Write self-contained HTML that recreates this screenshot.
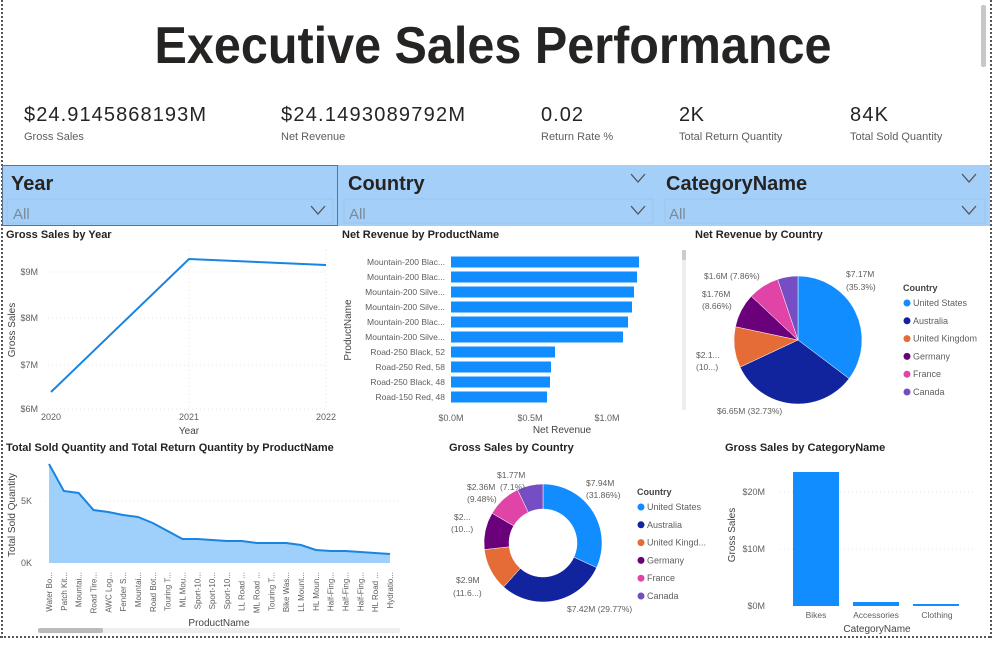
<!DOCTYPE html>
<html><head><meta charset="utf-8"><style>
html,body{margin:0;padding:0;background:#fff;}
svg{display:block;font-family:"Liberation Sans",sans-serif;}
</style></head><body>
<svg id="s" width="1000" height="646" viewBox="0 0 1000 646" xmlns="http://www.w3.org/2000/svg">
<rect width="1000" height="646" fill="#fff"/>
<line x1="2" y1="0" x2="2" y2="638" stroke="#555" stroke-width="2" stroke-dasharray="2,2"/>
<line x1="0" y1="637" x2="992" y2="637" stroke="#555" stroke-width="2" stroke-dasharray="2,2"/>
<line x1="991" y1="0" x2="991" y2="638" stroke="#555" stroke-width="2" stroke-dasharray="2,2"/>
<rect x="981" y="5" width="5" height="62" rx="2" fill="#c8c8c8"/>
<text x="493" y="63" text-anchor="middle" font-size="52" font-weight="bold" fill="#252423" textLength="677" lengthAdjust="spacingAndGlyphs">Executive Sales Performance</text>
<g fill="#252423" font-size="20" lengthAdjust="spacingAndGlyphs">
<text x="24" y="121" textLength="182">$24.9145868193M</text>
<text x="281" y="121" textLength="184">$24.1493089792M</text>
<text x="541" y="121" textLength="42">0.02</text>
<text x="679" y="121" textLength="25">2K</text>
<text x="850" y="121" textLength="38">84K</text>
</g>
<g fill="#605e5c" font-size="11">
<text x="24" y="140">Gross Sales</text>
<text x="281" y="140">Net Revenue</text>
<text x="541" y="140">Return Rate %</text>
<text x="679" y="140">Total Return Quantity</text>
<text x="850" y="140">Total Sold Quantity</text>
</g>
<rect x="2" y="165" width="988" height="61" fill="#a3cff9"/>
<rect x="2.5" y="165.5" width="335" height="60" fill="none" stroke="#5a7391" stroke-width="1"/>
<g font-size="20" font-weight="bold" fill="#252423">
<text x="11" y="190">Year</text><text x="348" y="190">Country</text><text x="666" y="190">CategoryName</text>
</g>
<g fill="none" stroke="#9cc5ee"><rect x="7" y="199" width="326" height="24"/><rect x="344" y="199" width="309" height="24"/><rect x="665" y="199" width="320" height="24"/></g>
<g font-size="15" fill="#7c8a99"><text x="13" y="219">All</text><text x="349" y="219">All</text><text x="669" y="219">All</text></g>
<g fill="none" stroke="#555" stroke-width="1.3">
<polyline points="311,206 318,214 325,206"/><polyline points="631,206 638,214 645,206"/><polyline points="962,206 969,214 976,206"/>
<polyline points="631,174 638,182 645,174"/><polyline points="962,174 969,182 976,174"/>
</g>
<text x="6" y="238" font-size="11" font-weight="bold" fill="#252423">Gross Sales by Year</text>
<g stroke="#e6e6e6" stroke-dasharray="1,3"><line x1="48" y1="272" x2="328" y2="272"/><line x1="48" y1="318" x2="328" y2="318"/><line x1="48" y1="365" x2="328" y2="365"/><line x1="48" y1="409" x2="328" y2="409"/><line x1="189" y1="250" x2="189" y2="409"/><line x1="326" y1="250" x2="326" y2="409"/></g>
<g font-size="9" fill="#605e5c" text-anchor="end"><text x="38" y="275">$9M</text><text x="38" y="321">$8M</text><text x="38" y="368">$7M</text><text x="38" y="412">$6M</text></g>
<g font-size="9" fill="#605e5c" text-anchor="middle"><text x="51" y="420">2020</text><text x="189" y="420">2021</text><text x="326" y="420">2022</text></g>
<text x="189" y="434" font-size="10" fill="#444" text-anchor="middle">Year</text>
<text transform="translate(15,330) rotate(-90)" font-size="10" fill="#444" text-anchor="middle">Gross Sales</text>
<polyline points="51,392 189,259 326,265" fill="none" stroke="#1a84e0" stroke-width="2"/>
<text x="342" y="238" font-size="11" font-weight="bold" fill="#252423">Net Revenue by ProductName</text>
<g id="bars"></g>
<g font-size="9" fill="#605e5c" text-anchor="middle"><text x="451" y="421">$0.0M</text><text x="530" y="421">$0.5M</text><text x="607" y="421">$1.0M</text></g>
<text x="562" y="433" font-size="10" fill="#444" text-anchor="middle">Net Revenue</text>
<text transform="translate(351,330) rotate(-90)" font-size="10" fill="#444" text-anchor="middle">ProductName</text>
<rect x="682" y="250" width="4" height="160" fill="#eee"/><rect x="682" y="250" width="4" height="10" fill="#ccc"/>
<text x="695" y="238" font-size="11" font-weight="bold" fill="#252423">Net Revenue by Country</text>
<g id="pie1"></g>
<g font-size="8.5" fill="#605e5c">
<text x="846" y="277">$7.17M</text><text x="846" y="290">(35.3%)</text>
<text x="704" y="279">$1.6M (7.86%)</text>
<text x="702" y="297">$1.76M</text><text x="702" y="309">(8.66%)</text>
<text x="696" y="358">$2.1...</text><text x="696" y="370">(10...)</text>
<text x="717" y="414">$6.65M (32.73%)</text>
</g>
<g font-size="9" fill="#605e5c" id="leg1"></g>
<text x="6" y="451" font-size="11" font-weight="bold" fill="#252423">Total Sold Quantity and Total Return Quantity by ProductName</text>
<line x1="45" y1="501" x2="398" y2="501" stroke="#e6e6e6" stroke-dasharray="1,3"/>
<g font-size="9" fill="#605e5c" text-anchor="end"><text x="32" y="504">5K</text><text x="32" y="566">0K</text></g>
<text transform="translate(15,515) rotate(-90)" font-size="10" fill="#444" text-anchor="middle">Total Sold Quantity</text>
<g id="area"></g>
<text x="219" y="626" font-size="10" fill="#444" text-anchor="middle">ProductName</text>
<rect x="38" y="628" width="362" height="5" rx="2" fill="#eee"/><rect x="38" y="628" width="65" height="5" rx="2" fill="#bbb"/>
<text x="449" y="451" font-size="11" font-weight="bold" fill="#252423">Gross Sales by Country</text>
<g id="pie2"></g>
<g font-size="8.5" fill="#605e5c">
<text x="586" y="486">$7.94M</text><text x="586" y="498">(31.86%)</text>
<text x="497" y="478">$1.77M</text><text x="500" y="490">(7.1%)</text>
<text x="467" y="490">$2.36M</text><text x="467" y="502">(9.48%)</text>
<text x="454" y="520">$2...</text><text x="451" y="532">(10...)</text>
<text x="456" y="583">$2.9M</text><text x="453" y="596">(11.6...)</text>
<text x="567" y="612">$7.42M (29.77%)</text>
</g>
<g font-size="9" fill="#605e5c" id="leg2"></g>
<text x="725" y="451" font-size="11" font-weight="bold" fill="#252423">Gross Sales by CategoryName</text>
<g font-size="9" fill="#605e5c" text-anchor="end"><text x="765" y="495">$20M</text><text x="765" y="552">$10M</text><text x="765" y="609">$0M</text></g>
<g stroke="#e6e6e6" stroke-dasharray="1,3"><line x1="780" y1="492" x2="975" y2="492"/><line x1="780" y1="549" x2="975" y2="549"/></g>
<rect x="793" y="472" width="46" height="134" fill="#118dff"/>
<rect x="853" y="602" width="46" height="4" fill="#118dff"/>
<rect x="913" y="604" width="46" height="2" fill="#118dff"/>
<g font-size="8.5" fill="#605e5c" text-anchor="middle"><text x="816" y="618">Bikes</text><text x="876" y="618">Accessories</text><text x="937" y="618">Clothing</text></g>
<text x="877" y="632" font-size="10" fill="#444" text-anchor="middle">CategoryName</text>
<text transform="translate(735,535) rotate(-90)" font-size="10" fill="#444" text-anchor="middle">Gross Sales</text>
</svg>
<script>
var NS="http://www.w3.org/2000/svg";
function el(p,t,a,txt){var e=document.createElementNS(NS,t);for(var k in a)e.setAttribute(k,a[k]);if(txt!=null)e.textContent=txt;document.getElementById(p).appendChild(e);return e;}
var names=["Mountain-200 Blac...","Mountain-200 Blac...","Mountain-200 Silve...","Mountain-200 Silve...","Mountain-200 Blac...","Mountain-200 Silve...","Road-250 Black, 52","Road-250 Red, 58","Road-250 Black, 48","Road-150 Red, 48"];
var ends=[639,637,634,632,628,623,555,551,550,547];
for(var i=0;i<10;i++){var y=262+i*15;el("bars","rect",{x:451,y:y-5.5,width:ends[i]-451,height:11,fill:"#118dff"});el("bars","text",{x:445,y:y+3,"font-size":"8.5",fill:"#605e5c","text-anchor":"end"},names[i]);}
var cols=["#118dff","#12239e","#e66c37","#6b007b","#e044a7","#744ec2"];
var cn=["United States","Australia","United Kingdom","Germany","France","Canada"];
function pie(id,cx,cy,r,ri,vals){var a=-Math.PI/2,tot=vals.reduce(function(s,v){return s+v},0);
for(var i=0;i<vals.length;i++){var b=a+vals[i]/tot*2*Math.PI,l=(b-a)>Math.PI?1:0;
var d="M"+(cx+r*Math.cos(a))+","+(cy+r*Math.sin(a))+" A"+r+","+r+" 0 "+l+" 1 "+(cx+r*Math.cos(b))+","+(cy+r*Math.sin(b));
if(ri>0){d+=" L"+(cx+ri*Math.cos(b))+","+(cy+ri*Math.sin(b))+" A"+ri+","+ri+" 0 "+l+" 0 "+(cx+ri*Math.cos(a))+","+(cy+ri*Math.sin(a))+"Z";}else d+=" L"+cx+","+cy+"Z";
el(id,"path",{d:d,fill:cols[i],stroke:"#fff","stroke-width":"0.5"});a=b;}}
pie("pie1",798,340,64,0,[35.3,32.73,10.3,8.66,7.86,5.15]);
pie("pie2",543,543,59,34,[31.86,29.77,11.6,10.2,9.48,7.1]);
function leg(id,x,y0,dy,names){el(id,"text",{x:x,y:y0,"font-weight":"bold",fill:"#444"},"Country");for(var i=0;i<6;i++){var y=y0+15+i*dy;el(id,"circle",{cx:x+4,cy:y-3,r:3.5,fill:cols[i]});el(id,"text",{x:x+10,y:y},names[i]);}}
leg("leg1",903,291,17.8,cn);
leg("leg2",637,495,17.8,["United States","Australia","United Kingd...","Germany","France","Canada"]);
var ys=[464,491,493,510,512,515,517,523,531,539,539,540,541,541,543,543,543,545,550,551,551,552,553,554];
var lbl=["Water Bo...","Patch Kit...","Mountai...","Road Tire...","AWC Log...","Fender S...","Mountai...","Road Bot...","Touring T...","ML Mou...","Sport-10...","Sport-10...","Sport-10...","LL Road ...","ML Road ...","Touring T...","Bike Was...","LL Mount...","HL Moun...","Half-Fing...","Half-Fing...","Half-Fing...","HL Road ...","Hydratio..."];
var pts=[],n=ys.length;for(var i=0;i<n;i++){var x=49+i*(341/(n-1));pts.push(x+","+ys[i]);
el("area","text",{transform:"translate("+(x+3)+",572) rotate(-90)","font-size":"8",fill:"#605e5c","text-anchor":"end"},lbl[i]);}
el("area","polygon",{points:"49,563 "+pts.join(" ")+" 390,563",fill:"#9fd0fb"});
el("area","polyline",{points:pts.join(" "),fill:"none",stroke:"#1a84e0","stroke-width":"2"});
</script>
</body></html>
